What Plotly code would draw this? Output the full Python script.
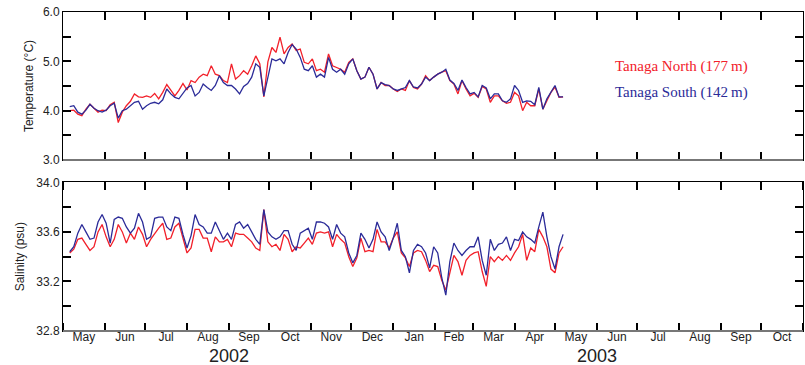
import pandas as pd
import plotly.graph_objects as go
from plotly.subplots import make_subplots

# ---- data (sampled every 3 days starting 2002-05-06) ----
start_date = "2002-05-06"
step_days = 3

temp_north = [4.00, 4.01, 3.93, 3.90, 4.03, 4.13, 4.05, 3.97, 4.01, 4.00,
              4.12, 4.17, 3.76, 3.97, 4.10, 4.19, 4.34, 4.28, 4.27, 4.30,
              4.27, 4.35, 4.24, 4.37, 4.53, 4.41, 4.30, 4.41, 4.55, 4.42,
              4.61, 4.57, 4.68, 4.74, 4.71, 4.91, 4.74, 4.71, 4.61, 4.57,
              4.95, 4.64, 4.71, 4.81, 4.74, 4.91, 5.11, 4.95, 4.28, 4.99,
              5.28, 5.18, 5.49, 5.15, 5.28, 5.35, 5.22, 5.25, 4.98, 4.95,
              5.05, 4.81, 4.84, 4.78, 5.15, 4.91, 4.88, 4.84, 4.78, 4.98,
              5.05, 4.81, 4.64, 4.68, 4.88, 4.74, 4.44, 4.57, 4.51, 4.51,
              4.44, 4.39, 4.44, 4.41, 4.61, 4.47, 4.44, 4.54, 4.71, 4.61,
              4.68, 4.74, 4.78, 4.81, 4.61, 4.54, 4.34, 4.61, 4.44, 4.30,
              4.35, 4.27, 4.49, 4.44, 4.17, 4.30, 4.30, 4.20, 4.15, 4.17,
              4.37, 4.30, 4.00, 4.17, 4.10, 4.10, 4.44, 4.03, 4.20, 4.37,
              4.48, 4.27, 4.28]

temp_south = [4.08, 4.10, 3.97, 3.93, 4.01, 4.13, 4.05, 4.00, 3.97, 4.01,
              4.10, 4.15, 3.85, 4.00, 4.03, 4.10, 4.17, 4.19, 4.03, 4.10,
              4.15, 4.17, 4.14, 4.22, 4.44, 4.34, 4.27, 4.24, 4.34, 4.46,
              4.51, 4.30, 4.37, 4.54, 4.47, 4.41, 4.51, 4.71, 4.57, 4.51,
              4.51, 4.44, 4.34, 4.49, 4.55, 4.68, 4.95, 4.88, 4.30, 4.68,
              5.05, 5.01, 5.05, 4.95, 5.18, 5.34, 5.25, 5.08, 4.84, 4.81,
              4.91, 4.68, 4.74, 4.68, 5.08, 4.84, 4.78, 4.84, 4.74, 4.95,
              5.05, 4.81, 4.64, 4.68, 4.88, 4.74, 4.44, 4.57, 4.53, 4.51,
              4.44, 4.41, 4.44, 4.47, 4.61, 4.48, 4.46, 4.54, 4.68, 4.61,
              4.68, 4.74, 4.78, 4.84, 4.62, 4.55, 4.41, 4.62, 4.47, 4.34,
              4.37, 4.28, 4.51, 4.46, 4.24, 4.34, 4.34, 4.20, 4.17, 4.24,
              4.51, 4.41, 4.17, 4.20, 4.19, 4.12, 4.47, 4.03, 4.24, 4.37,
              4.51, 4.28, 4.28]

sal_north = [33.43, 33.46, 33.54, 33.55, 33.50, 33.45, 33.48, 33.60, 33.66, 33.56,
             33.48, 33.54, 33.66, 33.60, 33.51, 33.59, 33.54, 33.64, 33.58, 33.48,
             33.54, 33.59, 33.63, 33.67, 33.54, 33.55, 33.64, 33.67, 33.54, 33.43,
             33.47, 33.62, 33.62, 33.55, 33.55, 33.44, 33.56, 33.52, 33.52, 33.54,
             33.48, 33.59, 33.58, 33.58, 33.55, 33.52, 33.47, 33.45, 33.78, 33.52,
             33.48, 33.50, 33.45, 33.58, 33.54, 33.44, 33.48, 33.47, 33.51, 33.55,
             33.50, 33.59, 33.60, 33.59, 33.60, 33.48, 33.58, 33.54, 33.51, 33.40,
             33.32, 33.39, 33.55, 33.44, 33.45, 33.44, 33.62, 33.52, 33.52, 33.47,
             33.55, 33.60, 33.43, 33.39, 33.32, 33.43, 33.45, 33.44, 33.37, 33.28,
             33.33, 33.32, 33.21, 33.13, 33.27, 33.41, 33.36, 33.25, 33.37, 33.41,
             33.43, 33.44, 33.28, 33.16, 33.40, 33.36, 33.40, 33.37, 33.41, 33.37,
             33.43, 33.48, 33.58, 33.37, 33.47, 33.44, 33.62, 33.56, 33.48, 33.30,
             33.27, 33.43, 33.48]

sal_south = [33.44, 33.48, 33.59, 33.66, 33.60, 33.54, 33.55, 33.68, 33.74, 33.67,
             33.51, 33.70, 33.72, 33.71, 33.64, 33.59, 33.63, 33.75, 33.68, 33.54,
             33.56, 33.71, 33.72, 33.72, 33.64, 33.61, 33.72, 33.71, 33.58, 33.47,
             33.57, 33.74, 33.66, 33.64, 33.59, 33.59, 33.68, 33.61, 33.54, 33.59,
             33.54, 33.66, 33.68, 33.63, 33.66, 33.60, 33.54, 33.50, 33.78, 33.60,
             33.56, 33.54, 33.56, 33.61, 33.61, 33.50, 33.45, 33.59, 33.61, 33.63,
             33.54, 33.68, 33.68, 33.67, 33.64, 33.54, 33.66, 33.59, 33.56, 33.43,
             33.35, 33.41, 33.59, 33.54, 33.47, 33.54, 33.68, 33.60, 33.56, 33.45,
             33.55, 33.67, 33.45, 33.40, 33.27, 33.45, 33.50, 33.48, 33.43, 33.31,
             33.48, 33.43, 33.23, 33.09, 33.36, 33.51, 33.45, 33.41, 33.45, 33.48,
             33.48, 33.56, 33.37, 33.25, 33.54, 33.45, 33.50, 33.51, 33.56, 33.45,
             33.54, 33.53, 33.60, 33.56, 33.54, 33.51, 33.64, 33.76, 33.56, 33.40,
             33.30, 33.48, 33.58]

series_names = ["Tanaga North (177\u2009m)", "Tanaga South (142\u2009m)"]
temp_ticks = [3.0, 3.5, 4.0, 4.5, 5.0, 5.5, 6.0]
temp_ticktext = ["3.0", "", "4.0", "", "5.0", "", "6.0"]
sal_ticks = [32.8, 33.0, 33.2, 33.4, 33.6, 33.8, 34.0]
sal_ticktext = ["32.8", "", "33.2", "", "33.6", "", "34.0"]
year_labels = [("2002-09-01", "2002"), ("2003-06-01", "2003")]

dates = pd.date_range(start_date, periods=len(temp_north), freq=f"{step_days}D")

RED = "#f2202a"
BLUE = "#2b2b98"
SANS = "Liberation Sans, Arial, sans-serif"
SERIF = "Liberation Serif, Times New Roman, serif"

fig = make_subplots(rows=2, cols=1, shared_xaxes=False, vertical_spacing=0.07)

fig.add_trace(go.Scatter(x=dates, y=temp_north, mode="lines", name=series_names[0],
                         line=dict(color=RED, width=1.3)), row=1, col=1)
fig.add_trace(go.Scatter(x=dates, y=temp_south, mode="lines", name=series_names[1],
                         line=dict(color=BLUE, width=1.3)), row=1, col=1)
fig.add_trace(go.Scatter(x=dates, y=sal_north, mode="lines", name=series_names[0],
                         line=dict(color=RED, width=1.3), showlegend=False), row=2, col=1)
fig.add_trace(go.Scatter(x=dates, y=sal_south, mode="lines", name=series_names[1],
                         line=dict(color=BLUE, width=1.3), showlegend=False), row=2, col=1)

xcommon = dict(type="date", range=["2002-05-01", "2003-11-01"], tick0="2002-05-01",
               dtick="M1", ticks="inside", ticklen=8, tickwidth=1.5, tickcolor="black",
               showline=True, linecolor="black", linewidth=1, mirror="ticks",
               showgrid=False, zeroline=False)
ycommon = dict(ticks="inside", ticklen=8, tickwidth=1.5, tickcolor="black",
               showline=True, linecolor="black", linewidth=1, mirror="ticks",
               showgrid=False, zeroline=False,
               tickfont=dict(family=SANS, size=12, color="#222"))

fig.update_layout(
    width=805, height=365,
    margin=dict(l=63, r=2, t=12, b=34),
    paper_bgcolor="white", plot_bgcolor="white",
    showlegend=False,
    xaxis=dict(**xcommon, domain=[0, 1], showticklabels=False),
    xaxis2=dict(**xcommon, domain=[0, 1], ticklabelmode="period", tickformat="%b",
                ticklabelstandoff=-5,
                tickfont=dict(family=SANS, size=12, color="#222")),
    yaxis=dict(**ycommon, domain=[0.536, 1], range=[3.0, 6.0],
               tickvals=temp_ticks, ticktext=temp_ticktext,
               title=dict(text="Temperature (°C)", standoff=6,
                          font=dict(family=SANS, size=12, color="#222"))),
    yaxis2=dict(**ycommon, domain=[0, 0.466], range=[32.8, 34.0],
                tickvals=sal_ticks, ticktext=sal_ticktext,
                title=dict(text="Salinity (psu)", standoff=9,
                           font=dict(family=SANS, size=12, color="#222"))),
)

# grey baseline of each panel
for yref in ["y domain", "y2 domain"]:
    xr = "x domain" if yref == "y domain" else "x2 domain"
    fig.add_shape(type="line", xref=xr, yref=yref, x0=0, x1=1, y0=0, y1=0,
                  line=dict(color="#777", width=2))

# legend text
fig.add_annotation(xref="paper", yref="paper", x=0.743, y=0.8285, xanchor="left",
                   yanchor="middle", text=series_names[0], showarrow=False,
                   font=dict(family=SERIF, size=15, color=RED))
fig.add_annotation(xref="paper", yref="paper", x=0.743, y=0.749, xanchor="left",
                   yanchor="middle", text=series_names[1], showarrow=False,
                   font=dict(family=SERIF, size=15, color=BLUE))

# year labels
for xd, txt in year_labels:
    fig.add_annotation(xref="x2", yref="paper", x=xd, y=-0.078, xanchor="center",
                       yanchor="middle", text=txt, showarrow=False,
                       font=dict(family=SANS, size=18, color="#222"))

fig.write_html("out.html")
